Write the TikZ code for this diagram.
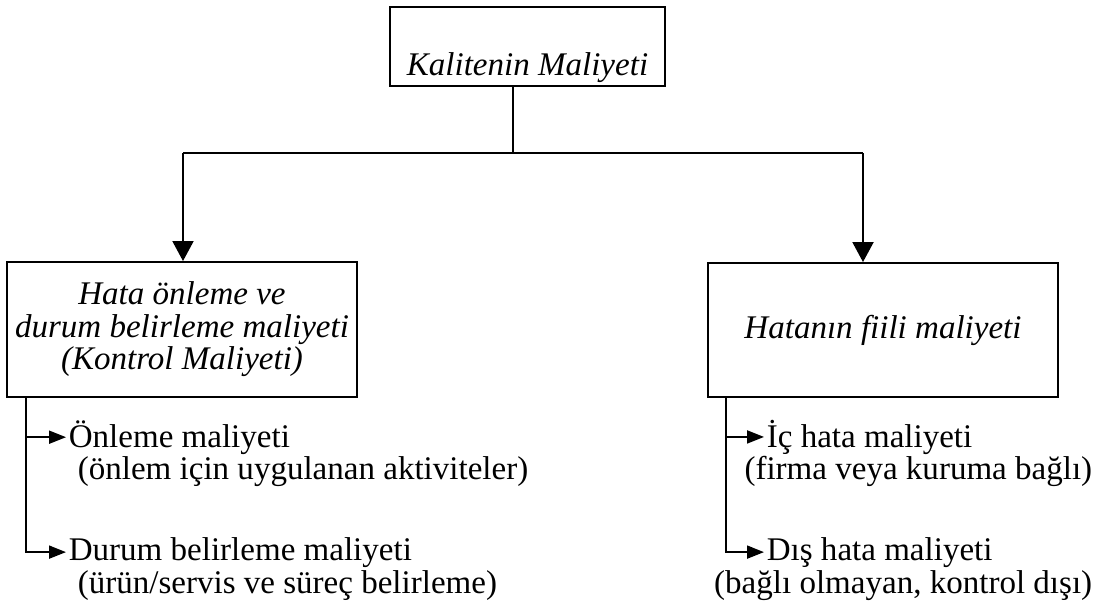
\documentclass[tikz,border=0pt]{standalone}
\usepackage{fontspec}
\setmainfont{Liberation Serif}
\usetikzlibrary{arrows.meta,calc}

\begin{document}
\begin{tikzpicture}[x=0.02cm,y=-0.02cm,
  every node/.style={font=\fontsize{18.8}{18.5}\selectfont},
  box/.style={draw,line width=1.1pt,inner sep=0pt,align=center,
    font=\fontsize{18.8}{18.5}\selectfont\itshape},
  item/.style={inner xsep=0.05cm,inner ysep=0pt},
  link/.style={line width=1.1pt},
  bigarrow/.style={line width=1.1pt,-{Triangle[length=0.4cm,width=0.42cm]}},
  smallarrow/.style={line width=1.1pt,-{Triangle[length=0.34cm,width=0.26cm]}}]
\useasboundingbox (0,0) rectangle (1106,610);

% top-level box, text set low inside it
\node[box,minimum width=5.5cm,minimum height=1.58cm,
      text height=1.24cm,text depth=0.1cm] (top) at (527.5,46.5) {Kalitenin Maliyeti};

% the two cost groups
\node[box,minimum width=7.0cm,minimum height=2.7cm] (left) at (182,329.5)
  {Hata önleme ve\\durum belirleme maliyeti\\(Kontrol Maliyeti)};
\node[box,minimum width=7.0cm,minimum height=2.68cm] (right) at (883,330)
  {Hatanın fiili maliyeti};

% branching from the top box
\coordinate (jc) at (513,153);
\coordinate (jl) at (183,153);
\coordinate (jr) at (863,153);
\draw[link] (top.south -| jc) -- (jc);
\draw[link] (jl) -- (jr);
\draw[bigarrow] (jl) -- (jl |- left.north);
\draw[bigarrow] (jr) -- (jr |- right.north);

% control cost items
\node[item,anchor=base west] (o1) at (66,447) {Önleme maliyeti};
\node[item,anchor=base west] (o2) at (75,479) {(önlem için uygulanan aktiviteler)};
\node[item,anchor=base west] (d1) at (66,560) {Durum belirleme maliyeti};
\node[item,anchor=base west] (d2) at (75,593) {(ürün/servis ve süreç belirleme)};

\coordinate (lt) at ($(left.south west)+(20,0)$);
\draw[smallarrow] (lt) |- (d1.west);
\draw[smallarrow] (lt |- o1.west) -- (o1.west);

% failure cost items
\node[item,anchor=base west] (i1) at (764,447) {İç hata maliyeti};
\node[item,anchor=base east] (i2) at (1095,479) {(firma veya kuruma bağlı)};
\node[item,anchor=base west] (e1) at (764,560) {Dış hata maliyeti};
\node[item,anchor=base east] (e2) at (1095,593) {(bağlı olmayan, kontrol dışı)};

\coordinate (rt) at ($(right.south west)+(19,0)$);
\draw[smallarrow] (rt) |- (e1.west);
\draw[smallarrow] (rt |- i1.west) -- (i1.west);
\end{tikzpicture}
\end{document}
